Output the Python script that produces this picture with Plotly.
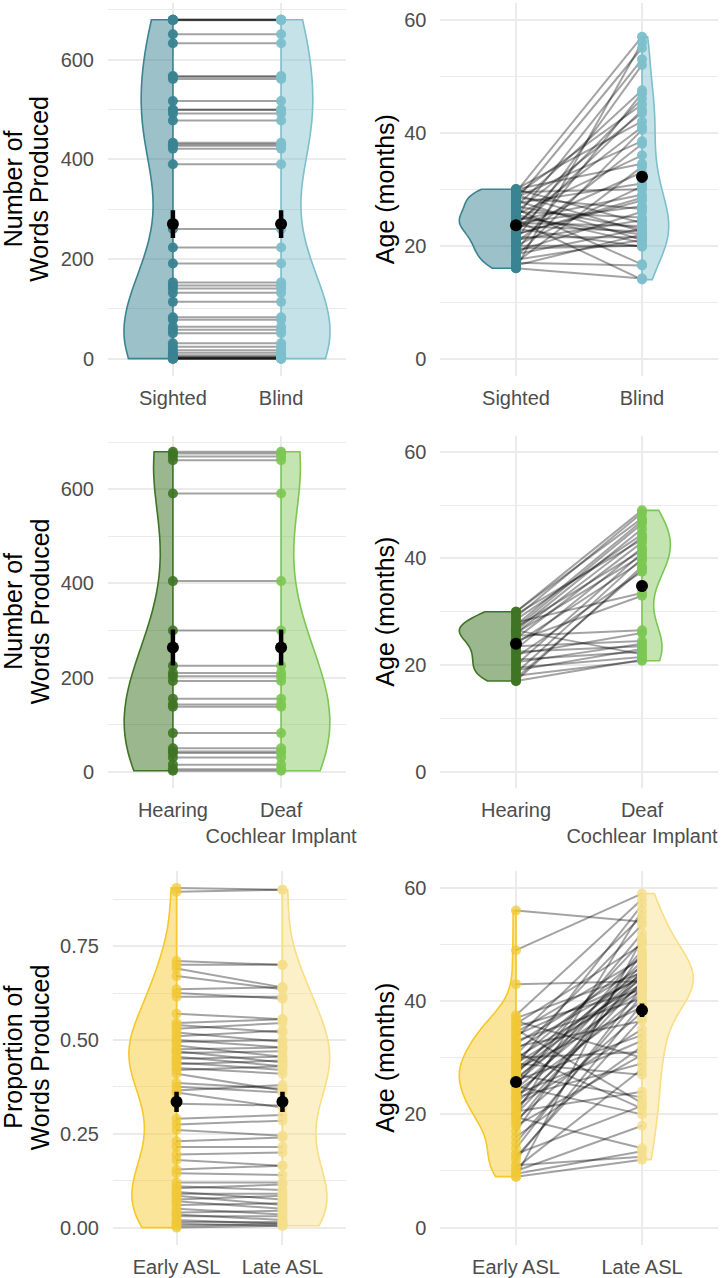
import numpy as np
import plotly.graph_objects as go

W, H = 722, 1278

# ---------------- data ----------------
# Row 1: Sighted vs Blind
words_sighted = [680, 680, 680, 679, 651, 633, 567, 565, 561, 517, 500, 499, 492, 478, 433, 430, 427, 421,
                 390, 260, 223, 191, 153, 147, 141, 132, 114, 83, 78, 64, 58, 51, 31, 24, 17, 12, 7, 4,
                 3, 2, 1, 0, 0, 0]
words_blind = [680, 680, 680, 679, 651, 633, 567, 565, 561, 517, 500, 499, 492, 478, 433, 430, 427, 421,
               390, 260, 223, 191, 153, 147, 141, 132, 114, 83, 78, 64, 58, 51, 31, 24, 17, 12, 7, 4,
               3, 2, 1, 0, 0, 0]
age_sighted = [16, 16, 16.5, 17, 17, 17.5, 18, 18.5, 19, 19, 19.5, 20, 20.5, 21, 21, 21.5, 22, 22.5, 23,
               23, 23.5, 23.5, 24, 24, 24, 24.5, 24.5, 25, 25, 25.5, 25.5, 26, 26, 26.5, 27, 27, 27.5, 28,
               28, 28.5, 28.5, 29, 29, 29.5, 29.5, 30, 30, 30, 22, 20]
age_blind = [14.2, 56, 22, 16.5, 34, 21, 40.5, 23, 26, 47, 20, 30.5, 38, 24.5, 52, 21.5, 28, 44, 19.8, 33,
             22.5, 46, 27, 23.5, 41, 14, 29, 53, 22, 36, 20.5, 43.5, 25, 16.7, 47.5, 23, 31, 55, 21, 38.5,
             26.5, 45, 22.5, 57, 30, 42, 24, 34.5, 28.5, 20]

# Row 2: Hearing vs Deaf (cochlear implant)
words_hearing = [680, 676, 670, 662, 591, 405, 300, 225, 210, 203, 193, 155, 143, 138, 82, 50, 43, 40, 30,
                 15, 5, 2]
words_deaf = [680, 676, 670, 662, 591, 405, 300, 225, 210, 203, 193, 155, 143, 138, 82, 50, 43, 40, 30,
              15, 5, 2]
age_hearing = [17, 17, 17.5, 18, 18.5, 19, 19.5, 20, 20.5, 21, 21.5, 22, 22.5, 23, 23.5, 24, 24.5, 25,
               25.5, 26, 26, 26.5, 26.5, 27, 27, 27.5, 28, 28.5, 29, 29.5, 30, 30]
age_deaf = [21, 38.5, 38, 20.8, 40, 23, 21.5, 41, 24, 22.5, 37.5, 26, 23.5, 42, 24.5, 39.5, 33, 43, 26.5,
            44, 40.5, 45.5, 22, 46.5, 41.5, 47, 33.5, 44.5, 48.5, 43.5, 49, 47.5]

# Row 3: Early ASL vs Late ASL
prop_early = [0.905, 0.895, 0.71, 0.70, 0.69, 0.67, 0.635, 0.625, 0.615, 0.57, 0.545, 0.54, 0.53, 0.52,
              0.51, 0.50, 0.495, 0.485, 0.475, 0.47, 0.465, 0.455, 0.45, 0.44, 0.435, 0.425, 0.42, 0.41,
              0.385, 0.375, 0.365, 0.36, 0.33, 0.29, 0.275, 0.26, 0.23, 0.215, 0.195, 0.18, 0.155, 0.145,
              0.12, 0.11, 0.105, 0.095, 0.09, 0.085, 0.075, 0.07, 0.06, 0.05, 0.04, 0.035, 0.03, 0.02,
              0.015, 0.01, 0.005, 0.0]
prop_late = [0.90, 0.90, 0.70, 0.70, 0.64, 0.635, 0.64, 0.61, 0.615, 0.555, 0.555, 0.52, 0.545, 0.495,
             0.525, 0.48, 0.50, 0.455, 0.48, 0.44, 0.47, 0.43, 0.455, 0.42, 0.445, 0.41, 0.43, 0.365, 0.37,
             0.36, 0.38, 0.32, 0.325, 0.30, 0.285, 0.245, 0.24, 0.215, 0.20, 0.165, 0.165, 0.14, 0.12,
             0.10, 0.115, 0.075, 0.09, 0.06, 0.085, 0.05, 0.065, 0.035, 0.045, 0.02, 0.03, 0.01, 0.015,
             0.005, 0.01, 0.005]
age_early = [56, 49, 43, 37.5, 37, 36.5, 36, 35.5, 35, 34.5, 34, 33.5, 33, 32.5, 32, 31.5, 31, 30.5, 30,
             30, 29.5, 29, 29, 28.5, 28, 28, 27.5, 27, 27, 26.5, 26, 26, 25.5, 25, 25, 24.5, 24, 23.5, 23,
             23, 22.5, 22, 21.5, 21, 20.5, 20, 20, 19.5, 19, 18.5, 18, 17, 16, 15, 14, 13, 12.5, 12, 11,
             10.5, 10, 9.5, 9, 9]
age_late = [54, 59, 43.5, 58, 45, 30, 50, 42, 22, 47.5, 44, 55, 40.5, 46, 36.5, 44.5, 21, 53.5, 43, 31,
            48, 42.5, 27, 57, 45.5, 39, 44, 23, 50.5, 42, 34, 47, 45, 20, 52, 43, 40, 33, 46.5, 29, 49,
            41.5, 35, 44.5, 24, 56, 43.5, 14, 38, 45.5, 30.5, 48.5, 32, 41, 42.5, 21.5, 37, 39.5, 12.5,
            28, 18, 13.5, 12, 51]

# group means and error-bar half widths
mean_words_sb = [270, 270]
err_words_sb = [28, 28]
mean_age_sb = [23.6, 32.2]
err_age_sb = [0.6, 1.0]
mean_words_hd = [264, 264]
err_words_hd = [38, 38]
mean_age_hd = [24.0, 34.8]
err_age_hd = [0.6, 1.0]
mean_prop_el = [0.335, 0.335]
err_prop_el = [0.027, 0.027]
mean_age_el = [25.7, 38.4]
err_age_el = [0.7, 1.2]

labels_sb = ["Sighted", "Blind"]
labels_hd = ["Hearing", "Deaf<br>Cochlear Implant"]
labels_el = ["Early ASL", "Late ASL"]

words_ticks = [0, 200, 400, 600]
age_ticks = [0, 20, 40, 60]
prop_ticks = [0.0, 0.25, 0.5, 0.75]

# ---------------- styling ----------------
FONT = "Liberation Sans"
GRID = "#EBEBEB"
TICKC = "#4D4D4D"

teal = dict(line=("#3A8391", "#7DBFCB"), fill=("rgba(58,131,145,0.50)", "rgba(125,191,203,0.45)"),
            pts=("rgba(58,131,145,0.95)", "rgba(125,191,203,0.95)"))
green = dict(line=("#3E7424", "#7CC652"), fill=("rgba(62,116,36,0.52)", "rgba(124,198,82,0.45)"),
             pts=("rgba(62,116,36,0.9)", "rgba(124,198,82,0.9)"))
yellow = dict(line=("#F6C82B", "#F8DE84"), fill=("rgba(246,200,43,0.48)", "rgba(248,222,132,0.45)"),
              pts=("rgba(240,200,55,0.75)", "rgba(244,222,140,0.85)"))


def nrd0(v):
    v = np.asarray(v, dtype=float)
    sd = np.std(v, ddof=1)
    iqr = np.subtract(*np.percentile(v, [75, 25]))
    lo = min(sd, iqr / 1.34) if iqr > 0 else sd
    return 0.9 * lo * len(v) ** -0.2


def px_x(a, b):
    return [a / W, b / W]


def px_y(top, bot):
    return [1 - bot / H, 1 - top / H]


panels = [
    dict(a=words_sighted, b=words_blind, m=mean_words_sb, e=err_words_sb, lab=labels_sb, pal=teal,
         xd=px_x(108, 346), yd=px_y(2.8, 375.6), yr=[-34, 714], ticks=words_ticks, dt=200, fmt=None),
    dict(a=age_sighted, b=age_blind, m=mean_age_sb, e=err_age_sb, lab=labels_sb, pal=teal,
         xd=px_x(440.4, 717.6), yd=px_y(2.8, 375.6), yr=[-3, 63], ticks=age_ticks, dt=20, fmt=None),
    dict(a=words_hearing, b=words_deaf, m=mean_words_hd, e=err_words_hd, lab=labels_hd, pal=green,
         xd=px_x(108, 346), yd=px_y(435.7, 787.7), yr=[-34, 714], ticks=words_ticks, dt=200, fmt=None),
    dict(a=age_hearing, b=age_deaf, m=mean_age_hd, e=err_age_hd, lab=labels_hd, pal=green,
         xd=px_x(440.4, 717.6), yd=px_y(435.7, 787.7), yr=[-3, 63], ticks=age_ticks, dt=20, fmt=None),
    dict(a=prop_early, b=prop_late, m=mean_prop_el, e=err_prop_el, lab=labels_el, pal=yellow,
         xd=px_x(113, 346), yd=px_y(870.9, 1244.6), yr=[-0.04525, 0.95025], ticks=prop_ticks, dt=0.25,
         fmt=".2f"),
    dict(a=age_early, b=age_late, m=mean_age_el, e=err_age_el, lab=labels_el, pal=yellow,
         xd=px_x(440.4, 717.6), yd=px_y(870.9, 1244.6), yr=[-3, 63], ticks=age_ticks, dt=20, fmt=None),
]

fig = go.Figure()
layout = {}

for k, p in enumerate(panels, start=1):
    xa = "x" if k == 1 else f"x{k}"
    ya = "y" if k == 1 else f"y{k}"
    pal = p["pal"]
    # half violins
    for j, (vals, side, pos) in enumerate([(p["a"], "negative", 1), (p["b"], "positive", 2)]):
        fig.add_trace(go.Violin(
            x0=pos, y=vals, side=side, points=False, spanmode="hard", bandwidth=nrd0(vals),
            scalegroup=f"g{k}", scalemode="width", fillcolor=pal["fill"][j],
            line=dict(color=pal["line"][j], width=1.6), xaxis=xa, yaxis=ya,
            showlegend=False, hoverinfo="skip"))
    # flat edges of the half violins
    for j, (vals, pos) in enumerate([(p["a"], 1), (p["b"], 2)]):
        fig.add_trace(go.Scatter(x=[pos, pos], y=[min(vals), max(vals)], mode="lines",
                                 line=dict(color=pal["line"][j], width=1.6), xaxis=xa, yaxis=ya,
                                 showlegend=False, hoverinfo="skip"))
    # paired lines
    for va, vb in zip(p["a"], p["b"]):
        fig.add_trace(go.Scatter(x=[1, 2], y=[va, vb], mode="lines",
                                 line=dict(color="rgba(0,0,0,0.36)", width=2), xaxis=xa, yaxis=ya,
                                 showlegend=False, hoverinfo="skip"))
    # points
    for j, (vals, pos) in enumerate([(p["a"], 1), (p["b"], 2)]):
        fig.add_trace(go.Scatter(x=[pos] * len(vals), y=vals, mode="markers",
                                 marker=dict(size=10, color=pal["pts"][j], line=dict(width=0)),
                                 xaxis=xa, yaxis=ya, showlegend=False, hoverinfo="skip"))
    # mean and error bar
    fig.add_trace(go.Scatter(x=[1, 2], y=p["m"], mode="markers",
                             marker=dict(size=12, color="black"),
                             error_y=dict(type="data", array=p["e"], thickness=4.5, width=0, color="black"),
                             xaxis=xa, yaxis=ya, showlegend=False, hoverinfo="skip"))

    xkey = "xaxis" if k == 1 else f"xaxis{k}"
    ykey = "yaxis" if k == 1 else f"yaxis{k}"
    layout[xkey] = dict(domain=p["xd"], anchor=ya, type="linear", range=[0.4, 2.6], automargin=False,
                        tickvals=[1, 2], ticktext=p["lab"], tickangle=0, showgrid=True, gridcolor=GRID,
                        gridwidth=1.6, zeroline=False, showline=False, ticks="",
                        tickfont=dict(family=FONT, size=20, color=TICKC), ticklabelstandoff=8)
    ydict = dict(domain=p["yd"], anchor=xa, range=p["yr"], tickvals=p["ticks"], showgrid=True,
                 automargin=False, gridcolor=GRID, gridwidth=1.6, zeroline=False, showline=False,
                 ticks="", tickfont=dict(family=FONT, size=20, color=TICKC), ticklabelstandoff=13,
                 minor=dict(tick0=p["dt"] / 2, dtick=p["dt"], showgrid=True, gridcolor=GRID, gridwidth=0.9))
    if p["fmt"]:
        ydict["tickformat"] = p["fmt"]
    layout[ykey] = ydict

# y-axis titles
ann = []
row_centers = [(2.8 + 375.6) / 2, (435.7 + 787.7) / 2, (870.9 + 1244.6) / 2]
left_titles = [("Number of", "Words Produced"), ("Number of", "Words Produced"),
               ("Proportion of", "Words Produced")]
for r, yc in enumerate(row_centers):
    for txt, xc in zip(left_titles[r], [13, 39.6]):
        ann.append(dict(text=txt, x=xc / W, y=1 - yc / H, xref="paper", yref="paper", showarrow=False,
                        textangle=-90, xanchor="center", yanchor="middle",
                        font=dict(family=FONT, size=25, color="black")))
    ann.append(dict(text="Age (months)", x=385 / W, y=1 - yc / H, xref="paper", yref="paper",
                    showarrow=False, textangle=-90, xanchor="center", yanchor="middle",
                    font=dict(family=FONT, size=25, color="black")))

fig.update_layout(width=W, height=H, margin=dict(l=0, r=0, t=0, b=0, autoexpand=False),
                  plot_bgcolor="white", paper_bgcolor="white", violinmode="overlay", violingap=0.1,
                  violingroupgap=0, annotations=ann, showlegend=False, **layout)

fig.write_html("out.html", config={"displayModeBar": False},
               post_script="document.body.style.margin='0px';")
